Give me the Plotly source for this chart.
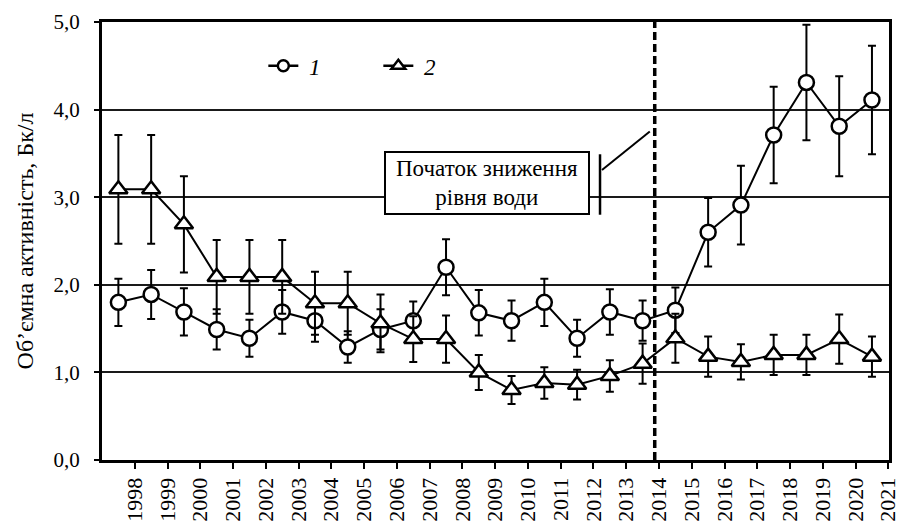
import plotly.graph_objects as go

years = list(range(1998, 2022))
series1 = [1.80, 1.89, 1.69, 1.49, 1.39, 1.69, 1.59, 1.29, 1.49, 1.59, 2.20, 1.68,
           1.59, 1.80, 1.39, 1.69, 1.59, 1.71, 2.60, 2.91, 3.71, 4.31, 3.81, 4.11]
err1 = [0.27, 0.28, 0.27, 0.23, 0.21, 0.25, 0.24, 0.18, 0.23, 0.22, 0.32, 0.26,
        0.23, 0.27, 0.21, 0.26, 0.23, 0.26, 0.39, 0.45, 0.55, 0.66, 0.57, 0.62]
series2 = [3.09, 3.09, 2.69, 2.09, 2.09, 2.09, 1.79, 1.79, 1.56, 1.38, 1.38, 1.00,
           0.80, 0.88, 0.86, 0.96, 1.10, 1.39, 1.18, 1.12, 1.20, 1.20, 1.38, 1.18]
err2 = [0.62, 0.62, 0.55, 0.42, 0.42, 0.42, 0.36, 0.36, 0.33, 0.26, 0.27, 0.20,
        0.16, 0.18, 0.17, 0.18, 0.23, 0.28, 0.23, 0.20, 0.23, 0.23, 0.28, 0.23]
names = ["&nbsp;<i>1</i>", "&nbsp;<i>2</i>"]
ytick_vals = [0, 1, 2, 3, 4, 5]
xtick_labels = [str(y) for y in years]
event_year = 2013.87

xpos = [y - 0.5 for y in years]
FONT = "Liberation Serif"

fig = go.Figure()
fig.add_trace(go.Scatter(
    x=xpos, y=series1, name=names[0], mode="lines+markers", showlegend=False,
    line=dict(color="black", width=2),
    marker=dict(symbol="circle", size=15, color="white", line=dict(color="black", width=2.5)),
    error_y=dict(type="data", array=err1, visible=True, color="black", thickness=2, width=4),
))
fig.add_trace(go.Scatter(
    x=xpos, y=series2, name=names[1], mode="lines+markers", showlegend=False,
    line=dict(color="black", width=2),
    marker=dict(symbol="triangle-up", size=16, color="white", line=dict(color="black", width=2.5)),
    error_y=dict(type="data", array=err2, visible=True, color="black", thickness=2, width=4),
))
# legend entries (no data)
fig.add_trace(go.Scatter(
    x=[None], y=[None], name=names[0], mode="lines+markers",
    line=dict(color="black", width=2.5),
    marker=dict(symbol="circle", size=11, color="white", line=dict(color="black", width=2.5)),
))
fig.add_trace(go.Scatter(
    x=[None], y=[None], name=names[1], mode="lines+markers",
    line=dict(color="black", width=2.5),
    marker=dict(symbol="triangle-up", size=12, color="white", line=dict(color="black", width=2.5)),
))

# event line
fig.add_shape(type="line", x0=event_year, x1=event_year, y0=0, y1=5, xref="x", yref="y",
              line=dict(color="black", width=3.5, dash="8px,4px"), layer="above")
# annotation bracket
fig.add_shape(type="line", x0=2012.2, x1=2012.2, y0=2.80, y1=3.49, xref="x", yref="y",
              line=dict(color="black", width=2.5))
fig.add_shape(type="line", x0=2012.26, x1=2013.72, y0=3.31, y1=3.75, xref="x", yref="y",
              line=dict(color="black", width=2))
fig.add_annotation(x=2008.74, y=3.157, xref="x", yref="y", showarrow=False,
                   text="Початок зниження<br>рівня води",
                   font=dict(family=FONT, size=23, color="black"),
                   bgcolor="white", bordercolor="black", borderwidth=2,
                   width=200, height=58, align="center")

fig.update_layout(
    width=901, height=525,
    margin=dict(l=102, r=12, t=22, b=65),
    paper_bgcolor="white", plot_bgcolor="white",
    separators=", ",
    font=dict(family=FONT, size=19, color="black"),
    showlegend=True,
    legend=dict(orientation="h", x=0.205, y=0.90, xanchor="left", yanchor="middle",
                bgcolor="rgba(0,0,0,0)", font=dict(family=FONT, size=23),
                entrywidth=70, entrywidthmode="pixels"),
)
fig.update_xaxes(range=[1997, 2021.02], tickvals=years, ticktext=xtick_labels, tickangle=-90,
                 ticks="outside", ticklen=6, tickwidth=2, tickcolor="black",
                 showline=True, linewidth=3, linecolor="black", mirror=True, automargin=False,
                 showgrid=False, zeroline=False, tickfont=dict(family=FONT, size=22))
fig.update_yaxes(range=[0, 5], tickvals=ytick_vals, tickformat=".1f",
                 ticks="outside", ticklen=5, tickwidth=2, tickcolor="black",
                 showline=True, linewidth=3, linecolor="black", mirror=True, automargin=False,
                 showgrid=True, gridcolor="#1a1a1a", gridwidth=2, zeroline=False,
                 tickfont=dict(family=FONT, size=21), ticklabelstandoff=10,
                 title=dict(text="Об’ємна активність, Бк/л", font=dict(family=FONT, size=24), standoff=14))

fig.write_html("out.html")
